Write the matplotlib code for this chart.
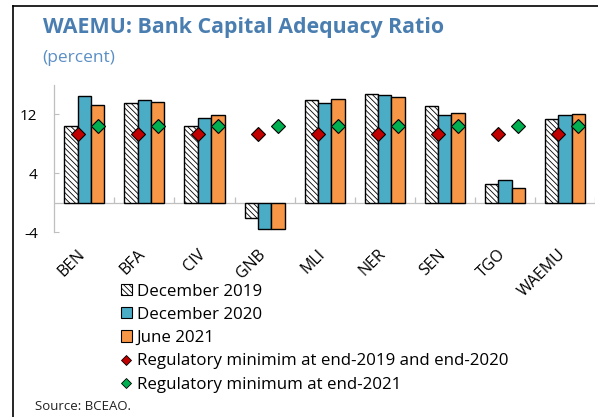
import matplotlib
matplotlib.use("Agg")
import matplotlib.pyplot as plt
import matplotlib.transforms as mtransforms
from matplotlib.patches import Patch
from matplotlib.lines import Line2D
import numpy as np

# ---- data ----
categories = ["BEN", "BFA", "CIV", "GNB", "MLI", "NER", "SEN", "TGO", "WAEMU"]
dec_2019 = [10.4, 13.6, 10.5, -2.0, 13.9, 14.8, 13.1, 2.6, 11.4]
dec_2020 = [14.5, 13.9, 11.5, -3.6, 13.6, 14.6, 11.9, 3.1, 11.9]
jun_2021 = [13.3, 13.65, 11.9, -3.6, 14.1, 14.4, 12.2, 1.95, 12.0]
reg_min_2019_2020 = [9.3, 9.3, 9.3, 9.3, 9.3, 9.3, 9.3, 9.3, 9.3]
reg_min_2021 = [10.4, 10.4, 10.4, 10.4, 10.4, 10.4, 10.4, 10.4, 10.4]
y_ticks = [-4, 4, 12]

series_labels = ["December 2019", "December 2020", "June 2021",
                 "Regulatory minimim at end-2019 and end-2020",
                 "Regulatory minimum at end-2021"]

FONT = ["Open Sans", "DejaVu Sans"]
plt.rcParams["font.family"] = FONT
plt.rcParams["hatch.linewidth"] = 0.6

W, H = 598, 417
fig = plt.figure(figsize=(W / 100, H / 100), dpi=100)

def fx(px):
    return px / W

def fy(py):
    return 1 - py / H

ax = fig.add_axes([fx(54.3), fy(232.3), fx(595) - fx(54.3), fy(85) - fy(232.3)])

x = np.arange(len(categories))
bw = 0.222
c_teal = "#4BACC6"
c_orange = "#F79646"
HATCH = "\\\\\\\\\\\\"
ax.bar(x - bw, dec_2019, bw, color="white", edgecolor="black", hatch=HATCH, linewidth=1.0, zorder=2)
ax.bar(x, dec_2020, bw, color=c_teal, edgecolor="black", linewidth=1.0, zorder=2)
ax.bar(x + bw, jun_2021, bw, color=c_orange, edgecolor="black", linewidth=1.0, zorder=2)
ax.plot(x - bw / 2, reg_min_2019_2020, ls="none", marker="D", ms=7, color="#C00000",
        markeredgecolor="black", markeredgewidth=0.8, zorder=4)
ax.plot(x + bw, reg_min_2021, ls="none", marker="D", ms=7, color="#00B050",
        markeredgecolor="black", markeredgewidth=0.8, zorder=4)

grey = "#BFBFBF"
ax.axhline(0, color=grey, lw=0.9, zorder=1)
seps = np.arange(len(categories)) + 0.5
ax.vlines(seps, 0, 0.8, color=grey, lw=0.9, zorder=1)

ax.set_xlim(-0.5, len(categories) - 0.5)
ax.set_ylim(-4, 16)
ax.set_yticks(y_ticks)
ax.set_yticklabels([str(v) for v in y_ticks])
ax.tick_params(axis="y", direction="in", length=3.6, width=0.8, color=grey, pad=12, labelsize=11)
ax.set_xticks(x)
ax.set_xticklabels(categories, rotation=45, ha="right", fontsize=11.5)
ax.tick_params(axis="x", length=0, pad=10)
offset = mtransforms.ScaledTranslation(0.04, 0, fig.dpi_scale_trans)
for lab in ax.get_xticklabels():
    lab.set_transform(lab.get_transform() + offset)

for s in ["top", "right", "bottom"]:
    ax.spines[s].set_visible(False)
ax.spines["left"].set_color(grey)
ax.spines["left"].set_linewidth(0.9)
ax.patch.set_visible(False)

# legend
handles = [
    Patch(facecolor="white", edgecolor="black", hatch=HATCH, linewidth=0.8),
    Patch(facecolor=c_teal, edgecolor="black", linewidth=0.8),
    Patch(facecolor=c_orange, edgecolor="black", linewidth=0.8),
    Line2D([], [], ls="none", marker="D", ms=5.5, color="#C00000", markeredgecolor="black", markeredgewidth=0.6),
    Line2D([], [], ls="none", marker="D", ms=5.5, color="#00B050", markeredgecolor="black", markeredgewidth=0.6),
]
fig.legend(handles, series_labels, loc="upper left", bbox_to_anchor=(fx(120.7), fy(283.5)),
           frameon=False, borderpad=0, borderaxespad=0, fontsize=12.2,
           handlelength=0.65, handleheight=0.65, handletextpad=0.3, labelspacing=0.43)

# titles / source
fig.text(fx(42.7), fy(33), "WAEMU: Bank Capital Adequacy Ratio", fontsize=15.4, fontweight="bold",
         color="#4A7EB0", ha="left", va="baseline")
fig.text(fx(42), fy(62), "(percent)", fontsize=12.5, color="#5B8FC4", ha="left", va="baseline")
fig.text(fx(35), fy(410), "Source: BCEAO.", fontsize=9.5, color="#222222", ha="left", va="baseline")

# outer frame lines
fig.add_artist(Line2D([fx(13), fx(13)], [0, fy(5.7)], color="black", lw=1.2, transform=fig.transFigure))
fig.add_artist(Line2D([fx(13), 1], [fy(5.7), fy(5.7)], color="black", lw=1.2, transform=fig.transFigure))

fig.savefig("out.png", dpi=100)
